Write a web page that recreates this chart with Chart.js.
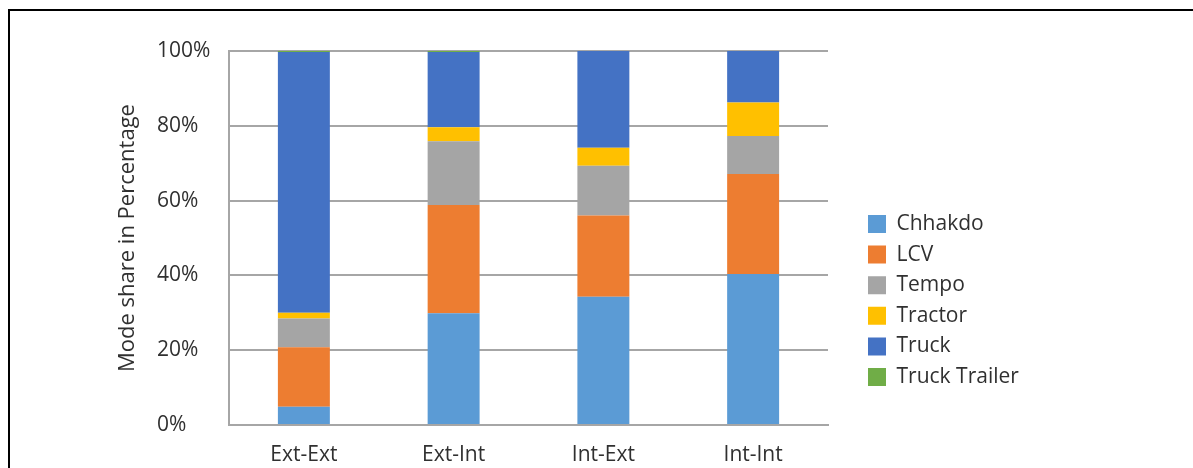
<!DOCTYPE html>
<html>
<head>
<meta charset="utf-8">
<script src="https://cdn.jsdelivr.net/npm/chart.js@4"></script>
<style>
  html, body { margin: 0; padding: 0; background: #fff; }
  #wrap { position: relative; width: 1193px; height: 468px; overflow: hidden; }
  #frame {
    position: absolute; left: 8px; top: 9px; width: 1300px; height: 600px;
    border-top: 2px solid #000; border-left: 2px solid #000;
  }
  #modeChart { position: absolute; left: 0; top: 0; }
</style>
</head>
<body>
<div id="wrap">
  <div id="frame"></div>
  <canvas id="modeChart" width="1193" height="468"></canvas>
</div>
<script>
const categories = ['Ext-Ext', 'Ext-Int', 'Int-Ext', 'Int-Int'];
const chhakdo = [4.9, 29.9, 34.3, 40.4];
const lcv = [15.9, 28.9, 21.7, 26.7];
const tempo = [7.7, 17.1, 13.3, 10.2];
const tractor = [1.5, 3.7, 4.8, 8.9];
const truck = [69.7, 20.1, 25.9, 13.8];
const truckTrailer = [0.3, 0.3, 0, 0];
const yTicks = [0, 20, 40, 60, 80, 100];

document.addEventListener('DOMContentLoaded', function () {
    Chart.defaults.font.family = "'Open Sans', sans-serif";
    Chart.defaults.color = '#303030';

    const fontSpec = { size: 21 };
    const gridGrey = '#A6A6A6';

    // rotated axis caption, placed left of the left-aligned tick labels
    const axisCaption = {
        id: 'axisCaption',
        afterDraw(chart) {
            const ctx = chart.ctx;
            ctx.save();
            ctx.translate(128, (chart.chartArea.top + chart.chartArea.bottom) / 2);
            ctx.rotate(-Math.PI / 2);
            ctx.font = "22px 'Open Sans', sans-serif";
            ctx.fillStyle = '#303030';
            ctx.textAlign = 'center';
            ctx.textBaseline = 'middle';
            ctx.fillText('Mode share in Percentage', 0, 0);
            ctx.restore();
        }
    };

    // park the legend to the right of the plot, lower than centre
    const legendSpot = {
        id: 'legendSpot',
        afterLayout(chart) {
            const lg = chart.legend;
            if (!lg) return;
            const h = lg.bottom - lg.top;
            lg.left = 858.4;
            lg.right = lg.left + lg.width;
            lg.top = 203.9;
            lg.bottom = lg.top + h;
        }
    };

    const ctx = document.getElementById('modeChart').getContext('2d');
    new Chart(ctx, {
        type: 'bar',
        data: {
            labels: categories,
            datasets: [
                { label: 'Chhakdo', data: chhakdo, backgroundColor: '#5B9BD5' },
                { label: 'LCV', data: lcv, backgroundColor: '#ED7D31' },
                { label: 'Tempo', data: tempo, backgroundColor: '#A5A5A5' },
                { label: 'Tractor', data: tractor, backgroundColor: '#FFC000' },
                { label: 'Truck', data: truck, backgroundColor: '#4472C4' },
                { label: 'Truck Trailer', data: truckTrailer, backgroundColor: '#70AD47' }
            ]
        },
        options: {
            responsive: false,
            animation: false,
            layout: { padding: { left: 157, top: 51, right: 365, bottom: 0 } },
            datasets: {
                bar: { categoryPercentage: 1, barPercentage: 0.347, borderWidth: 0 }
            },
            scales: {
                x: {
                    stacked: true,
                    afterFit(scale) { scale.height = 43; },
                    grid: { display: false, drawTicks: false },
                    border: { display: true, color: gridGrey, width: 2 },
                    ticks: { font: fontSpec, padding: 17 }
                },
                y: {
                    stacked: true,
                    min: 0,
                    max: 100,
                    afterBuildTicks(scale) {
                        scale.ticks = yTicks.map(v => ({ value: v }));
                    },
                    afterFit(scale) { scale.width = 72; },
                    grid: { color: gridGrey, lineWidth: 2, drawTicks: false },
                    border: { display: true, color: gridGrey, width: 2 },
                    ticks: {
                        font: fontSpec,
                        crossAlign: 'far',
                        callback: function (value) { return value + '%'; }
                    }
                }
            },
            plugins: {
                legend: {
                    position: 'chartArea',
                    align: 'start',
                    labels: {
                        font: fontSpec,
                        color: '#303030',
                        boxWidth: 18,
                        boxHeight: 18,
                        padding: 9.6
                    }
                },
                tooltip: { enabled: false }
            }
        },
        plugins: [axisCaption, legendSpot]
    });
});
</script>
</body>
</html>
